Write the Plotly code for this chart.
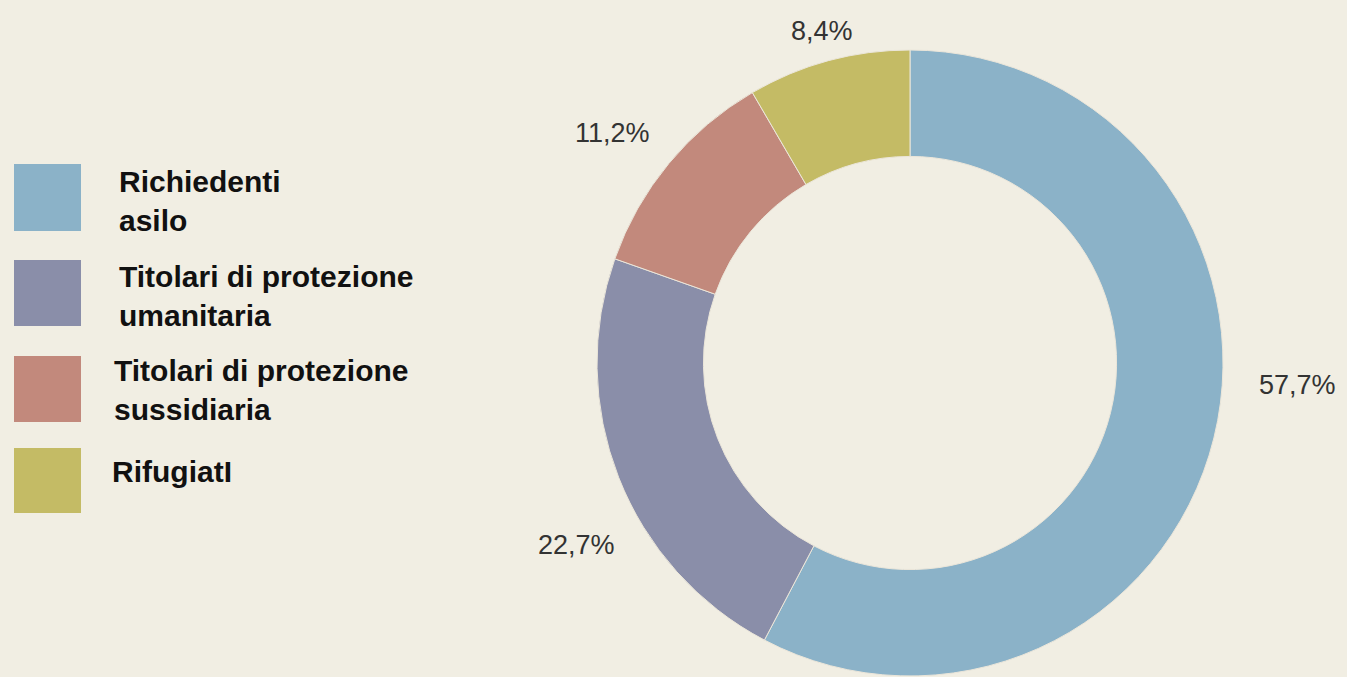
import plotly.graph_objects as go

categories = ["Richiedenti asilo", "Titolari di protezione umanitaria",
              "Titolari di protezione sussidiaria", "RifugiatI"]
legend_labels = ["Richiedenti<br>asilo", "Titolari di protezione<br>umanitaria",
                 "Titolari di protezione<br>sussidiaria", "RifugiatI"]
values = [57.7, 22.7, 11.2, 8.4]
colors = ["#8bb2c8", "#8a8ea9", "#c2897c", "#c4bb65"]

W, H = 1347, 677
BG = "#f1eee3"

fig = go.Figure()
fig.add_trace(go.Pie(
    labels=categories, values=values, sort=False, direction="clockwise",
    rotation=0, hole=0.66, textinfo="none", hoverinfo="label+percent",
    marker=dict(colors=colors, line=dict(color="#ebe6da", width=1)),
    domain=dict(x=[597 / W, 1223 / W], y=[1 / H, 627 / H]),
    showlegend=False,
))

def fmt(v):
    return f"{v:.1f}".replace(".", ",") + "%"

# percentage label placements (pixels, from top-left)
label_pos = [(1297, 385), (576, 545), (612, 133), (822, 31)]
for v, (px, py) in zip(values, label_pos):
    fig.add_annotation(x=px / W, y=1 - py / H, xref="paper", yref="paper",
                       text=fmt(v), showarrow=False, xanchor="center", yanchor="middle",
                       font=dict(family="Liberation Sans, Arial, sans-serif", size=27, color="#333333"))

# custom legend
sq = [(164, 231), (260, 326), (356, 422), (448, 513)]
txt = [(117, 201), (117, 296), (112, 390), (110, 471)]
for lab, col, (y0, y1), (tx, ty) in zip(legend_labels, colors, sq, txt):
    fig.add_shape(type="rect", xref="paper", yref="paper",
                  x0=14 / W, x1=81 / W, y0=1 - y1 / H, y1=1 - y0 / H,
                  fillcolor=col, line=dict(width=0), layer="above")
    fig.add_annotation(x=tx / W, y=1 - ty / H, xref="paper", yref="paper",
                       text=f"<b>{lab}</b>", showarrow=False, xanchor="left", yanchor="middle",
                       align="left",
                       font=dict(family="Liberation Sans, Arial, sans-serif", size=30, color="#111111"))

fig.update_layout(width=W, height=H, margin=dict(l=0, r=0, t=0, b=0),
                  paper_bgcolor=BG, plot_bgcolor=BG, showlegend=False)
fig.write_html("out.html", config={"displayModeBar": False},
               post_script="document.body.style.margin='0';document.body.style.overflow='hidden';document.body.style.background='" + BG + "';")
